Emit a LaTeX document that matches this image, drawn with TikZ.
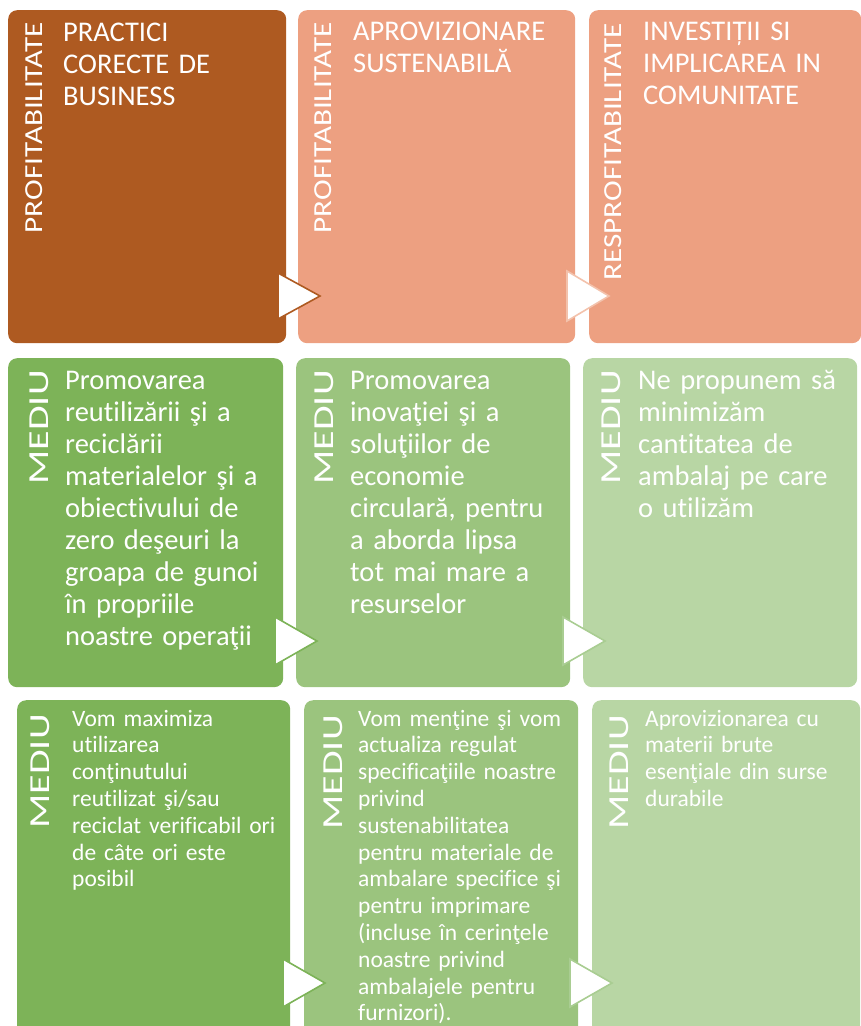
\documentclass[tikz,border=0pt]{standalone}
\usepackage{fontspec}
\setmainfont[Ligatures=NoCommon]{Carlito}
\usetikzlibrary{positioning}
\definecolor{rust}{HTML}{AE5A21}
\definecolor{salmon}{HTML}{EDA081}
\definecolor{salmonline}{HTML}{F3C2AC}
\definecolor{leafA}{HTML}{7DB358}
\definecolor{leafB}{HTML}{9BC47E}
\definecolor{leafC}{HTML}{B8D6A4}
\definecolor{leafline}{HTML}{A9CD92}
\tikzset{panel/.style={rounded corners=9pt,inner sep=0pt,anchor=north west},}
\tikzset{sidelabel/.style={rotate=90,xscale=1.2,anchor=base east,inner sep=0pt,text=white,font=\fontsize{26}{26}\selectfont},}
\tikzset{medlabel/.style={sidelabel,xscale=1.15,font=\fontsize{29}{29}\selectfont},}
\tikzset{bodytext/.style={anchor=base west,inner sep=0pt,text=white,align=left,text width=240pt,font=\fontsize{28.5}{32}\selectfont},}
\tikzset{smalltext/.style={bodytext,font=\fontsize{23.5}{26.8}\selectfont},}
\tikzset{chevron/.style={fill=white,line width=1.6pt,line join=miter},}

\begin{document}
\begin{tikzpicture}[x=1pt,y=-1pt]
	\useasboundingbox (0,0) rectangle (861,1026);
	% panels
	\node[panel,fill=rust,minimum width=278pt,minimum height=333pt] (p1) at (8,10) {};
	\node[panel,fill=salmon,minimum width=277pt,minimum height=333pt] (p2) at (298,10) {};
	\node[panel,fill=salmon,minimum width=272pt,minimum height=333pt] (p3) at (589,10) {};
	\node[panel,fill=leafA,minimum width=275pt,minimum height=329pt] (m1) at (8,358) {};
	\node[panel,fill=leafB,minimum width=274pt,minimum height=329pt] (m2) at (296,358) {};
	\node[panel,fill=leafC,minimum width=274pt,minimum height=329pt] (m3) at (583,358) {};
	\node[panel,fill=leafA,minimum width=273pt,minimum height=340pt] (n1) at (17,700) {};
	\node[panel,fill=leafB,minimum width=274pt,minimum height=340pt] (n2) at (304,700) {};
	\node[panel,fill=leafC,minimum width=268pt,minimum height=340pt] (n3) at (592,700) {};
	% chevrons
	\draw[chevron,draw=rust] (278,273) -- (278,319) -- (320,296) -- cycle;
	\draw[chevron,draw=salmonline] (567,271) -- (567,321) -- (609,296) -- cycle;
	\draw[chevron,draw=leafA] (275,617) -- (275,665) -- (317,641) -- cycle;
	\draw[chevron,draw=leafline] (563,617) -- (563,665) -- (605,641) -- cycle;
	\draw[chevron,draw=leafA] (283,959) -- (283,1007) -- (325,983) -- cycle;
	\draw[chevron,draw=leafline] (570,959) -- (570,1007) -- (612,983) -- cycle;
	% side labels
	\node[sidelabel] (lp1) at (42,22) {PROFITABILITATE};
	\node[sidelabel] (lp2) at (331,22) {PROFITABILITATE};
	\node[sidelabel] (lp3) at (621,23) {RESPROFITABILITATE};
	\node[medlabel] (lm1) at (48,370) {MEDIU};
	\node[medlabel] (lm2) at (333,370) {MEDIU};
	\node[medlabel] (lm3) at (620,370) {MEDIU};
	\node[medlabel] (ln1) at (49,714) {MEDIU};
	\node[medlabel] (ln2) at (342,715) {MEDIU};
	\node[medlabel] (ln3) at (628,715) {MEDIU};
	% texts
	\node[bodytext] (tp1) at (63,41) {PRACTICI\\CORECTE DE\\BUSINESS};
	\node[bodytext] (tp2) at (353,40) {APROVIZIONARE\\SUSTENABILĂ};
	\node[bodytext] (tp3) at (643,40) {INVESTIȚII SI\\IMPLICAREA IN\\COMUNITATE};
	\node[bodytext] (tm1) at (65,389) {Promovarea\\reutilizării şi a\\reciclării\\materialelor şi a\\obiectivului de\\zero deşeuri la\\groapa de gunoi\\în propriile\\noastre operaţii};
	\node[bodytext] (tm2) at (350,389) {Promovarea\\inovaţiei şi a\\soluţiilor de\\economie\\circulară, pentru\\a aborda lipsa\\tot mai mare a\\resurselor};
	\node[bodytext] (tm3) at (638,389) {Ne propunem să\\minimizăm\\cantitatea de\\ambalaj pe care\\o utilizăm};
	\node[smalltext] (tn1) at (72,726) {Vom maximiza\\utilizarea\\conţinutului\\reutilizat şi/sau\\reciclat verificabil ori\\de câte ori este\\posibil};
	\node[smalltext] (tn2) at (358,726) {Vom menţine şi vom\\actualiza regulat\\specificaţiile noastre\\privind\\sustenabilitatea\\pentru materiale de\\ambalare specifice şi\\pentru imprimare\\(incluse în cerinţele\\noastre privind\\ambalajele pentru\\furnizori).};
	\node[smalltext] (tn3) at (645,726) {Aprovizionarea cu\\materii brute\\esenţiale din surse\\durabile};
\end{tikzpicture}
\end{document}
